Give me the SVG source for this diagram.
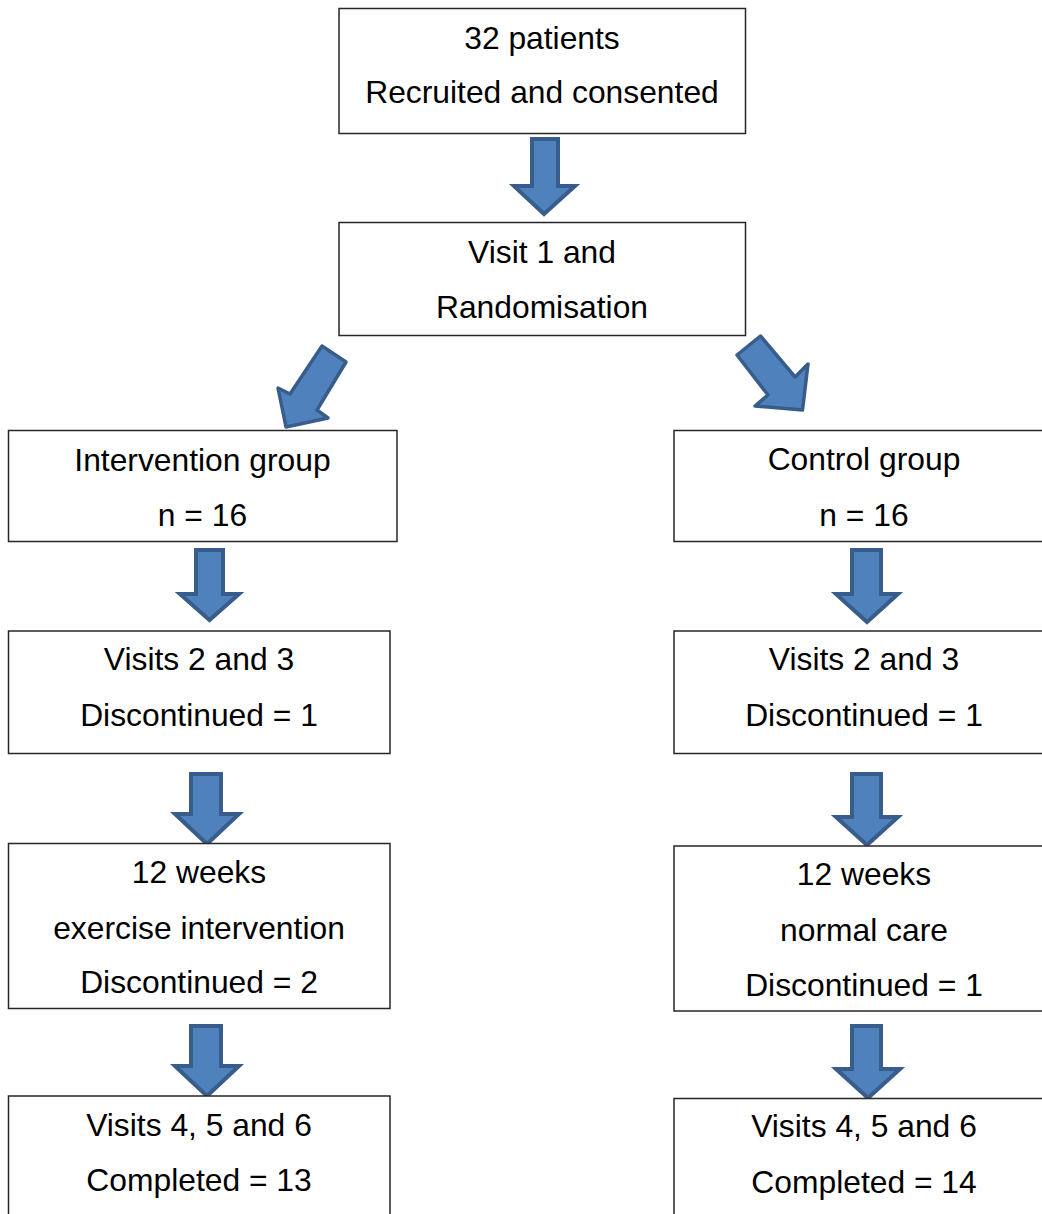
<svg xmlns="http://www.w3.org/2000/svg" width="1042" height="1214" viewBox="0 0 1042 1214">
<style>
.box{fill:#fff;stroke:#262626;stroke-width:1.5}
.t{font-family:"Liberation Sans",Arial,sans-serif;font-size:31.8px;fill:#000;text-anchor:middle}
.arrow{fill:#4F81BD;stroke:#385D8A;stroke-width:4;stroke-linejoin:miter}
.diag{fill:#4F81BD;stroke:#385D8A;stroke-width:3.5;stroke-linejoin:round}
</style>
<rect width="1042" height="1214" fill="#fff"/>
<g id="connectors">
<path class="arrow" d="M532,139 H558 V186 H575 L544,214 L514,186 H532 Z"/>
<polygon class="diag" points="322,346 346,362 317,410 328,418 286,427 278,388 290,394"/>
<polygon class="diag" points="737,355 760.5,336 795,377 808,364 802.5,410 755,406 768,395"/>
<path class="arrow" d="M196,550 H223 V594 H239 L209.5,620 L180,594 H196 Z"/>
<path class="arrow" d="M852,550 H881 V594 H898 L867,622 L836,594 H852 Z"/>
<path class="arrow" d="M191,774 H221 V814 H239 L207,844 L175,814 H191 Z"/>
<path class="arrow" d="M852,774 H881 V817 H898 L867,845 L836,817 H852 Z"/>
<path class="arrow" d="M191,1026 H221 V1066 H239 L207,1096 L175,1066 H191 Z"/>
<path class="arrow" d="M852,1026 H881 V1069 H900 L868,1098 L836,1069 H852 Z"/>
</g>
<g id="recruited">
<rect class="box" x="339" y="8.5" width="406.5" height="125"/>
<text class="t" x="542" y="49">32 patients</text>
<text class="t" x="542" y="103">Recruited and consented</text>
</g>
<g id="randomisation">
<rect class="box" x="339" y="222.5" width="406.5" height="113"/>
<text class="t" x="542" y="263">Visit 1 and</text>
<text class="t" x="542" y="318">Randomisation</text>
</g>
<g id="intervention-group">
<rect class="box" x="8.5" y="430.5" width="388.5" height="111"/>
<text class="t" x="202.5" y="471">Intervention group</text>
<text class="t" x="202.5" y="526">n = 16</text>
</g>
<g id="control-group">
<rect class="box" x="674" y="430.5" width="380" height="111"/>
<text class="t" x="864" y="470">Control group</text>
<text class="t" x="864" y="526">n = 16</text>
</g>
<g id="int-visits23">
<rect class="box" x="8.5" y="631" width="381.5" height="122.5"/>
<text class="t" x="199" y="670">Visits 2 and 3</text>
<text class="t" x="199" y="726">Discontinued = 1</text>
</g>
<g id="ctl-visits23">
<rect class="box" x="674" y="631" width="380" height="122.5"/>
<text class="t" x="864" y="670">Visits 2 and 3</text>
<text class="t" x="864" y="726">Discontinued = 1</text>
</g>
<g id="int-12weeks">
<rect class="box" x="8.5" y="843.5" width="381.5" height="165"/>
<text class="t" x="199" y="883">12 weeks</text>
<text class="t" x="199" y="939">exercise intervention</text>
<text class="t" x="199" y="993">Discontinued = 2</text>
</g>
<g id="ctl-12weeks">
<rect class="box" x="674" y="846" width="380" height="165"/>
<text class="t" x="864" y="885">12 weeks</text>
<text class="t" x="864" y="940.5">normal care</text>
<text class="t" x="864" y="996">Discontinued = 1</text>
</g>
<g id="int-visits456">
<rect class="box" x="8.5" y="1096" width="381.5" height="140"/>
<text class="t" x="199" y="1135.5">Visits 4, 5 and 6</text>
<text class="t" x="199" y="1190.5">Completed = 13</text>
</g>
<g id="ctl-visits456">
<rect class="box" x="674" y="1098.5" width="380" height="140"/>
<text class="t" x="864" y="1137">Visits 4, 5 and 6</text>
<text class="t" x="864" y="1193">Completed = 14</text>
</g>
</svg>
